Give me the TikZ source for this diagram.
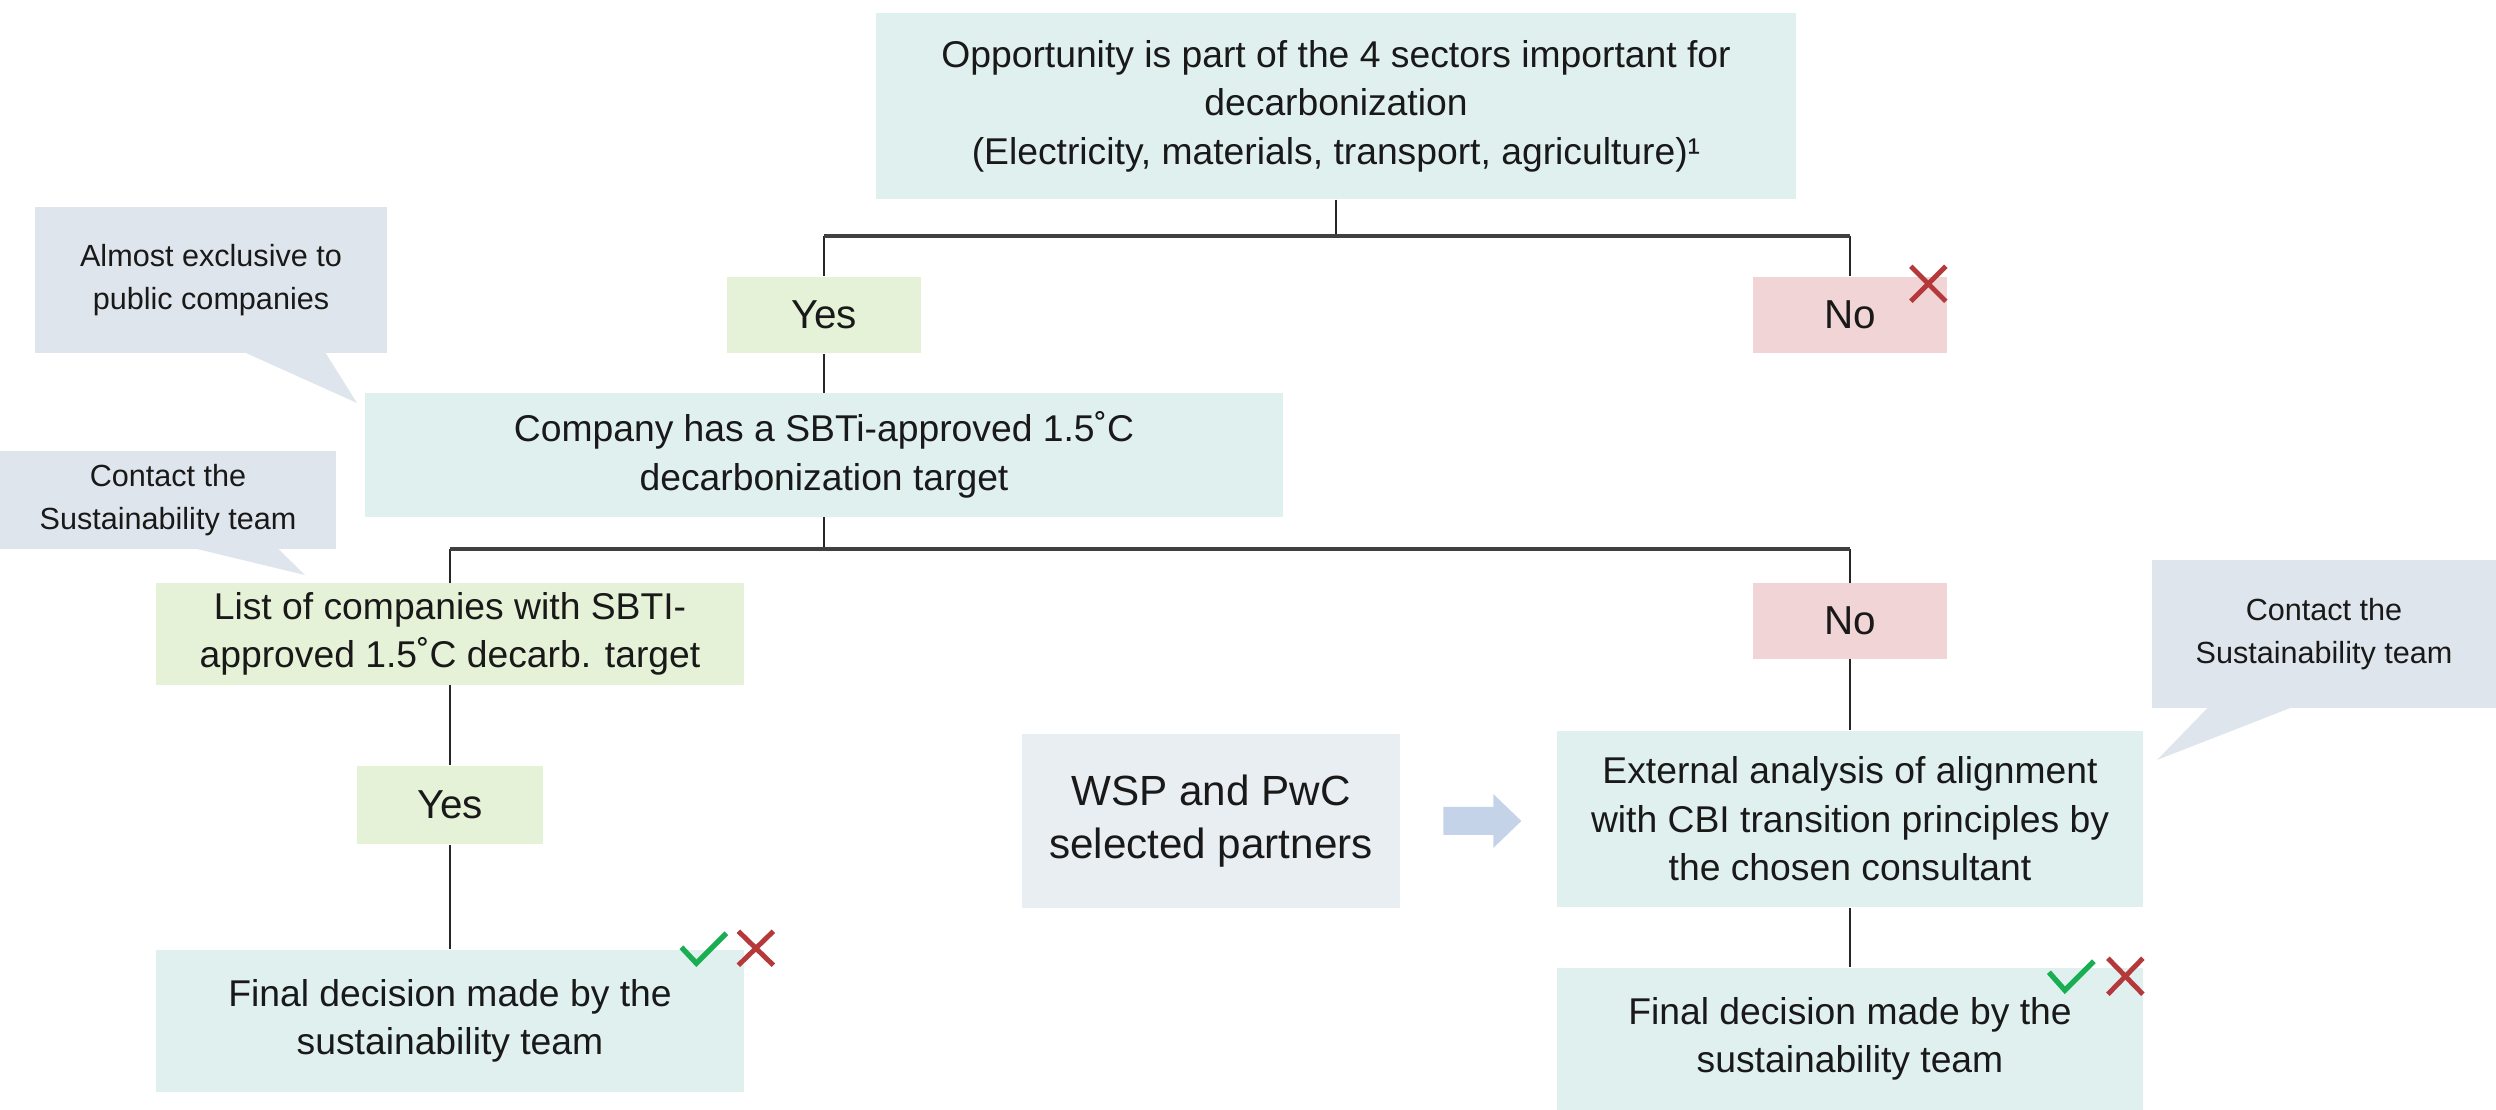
\documentclass[tikz,border=0pt]{standalone}
\usepackage{fontspec}
\setmainfont{Liberation Sans}
\usetikzlibrary{calc}
\definecolor{tealbox}{RGB}{224,240,238}
\definecolor{greenbox}{RGB}{229,242,215}
\definecolor{pinkbox}{RGB}{241,213,214}
\definecolor{callcol}{RGB}{223,229,236}
\definecolor{wspcol}{RGB}{233,238,242}
\definecolor{arrowcol}{RGB}{197,211,233}
\definecolor{okgreen}{RGB}{26,174,82}
\definecolor{nored}{RGB}{181,56,58}
\tikzset{
  base/.style={inner sep=0pt, align=center, text=black!90},
  tealnode/.style={base, fill=tealbox, font=\fontsize{10.6}{13.8}\selectfont},
  greennode/.style={base, fill=greenbox, font=\fontsize{10.6}{13.8}\selectfont},
  yesnode/.style={base, fill=greenbox, font=\fontsize{11.5}{14}\selectfont},
  nonode/.style={base, fill=pinkbox, font=\fontsize{11.5}{14}\selectfont},
  callnode/.style={base, fill=callcol, font=\fontsize{8.7}{12.2}\selectfont},
  wspnode/.style={base, fill=wspcol, font=\fontsize{12}{15}\selectfont},
  vline/.style={draw=black!85, line width=0.65pt},
  hline/.style={draw=black!75, line width=1.2pt},
  checkmark/.style={draw=okgreen, line width=1.5pt},
  crossmark/.style={draw=nored, line width=1.4pt},
}
\begin{document}
\begin{tikzpicture}[x=0.01cm,y=-0.01cm]
\useasboundingbox (0,0) rectangle (2496,1110);

% boxes
\node[tealnode, minimum width=9.19cm, minimum height=1.86cm] (top) at (1336,106)
  {Opportunity is part of the 4 sectors important for\\decarbonization\\(Electricity, materials, transport, agriculture)¹};
\node[yesnode, minimum width=1.93cm, minimum height=0.76cm] (yes1) at (824,315) {Yes};
\node[nonode, minimum width=1.94cm, minimum height=0.76cm] (no1) at (1850,315) {No};
\node[tealnode, minimum width=9.18cm, minimum height=1.23cm] (comp) at (824,455)
  {Company has a SBTi-approved 1.5˚C\\decarbonization target};
\node[callnode, minimum width=3.52cm, minimum height=1.45cm] (call1) at (211,280)
  {Almost exclusive to\\public companies};
\node[callnode, minimum width=3.35cm, minimum height=0.97cm] (call2) at (168,500)
  {Contact the\\Sustainability team};
\node[greennode, minimum width=5.87cm, minimum height=1.01cm] (list) at (450,634)
  {List of companies with SBTI-\\approved 1.5˚C decarb. target};
\node[yesnode, minimum width=1.86cm, minimum height=0.78cm] (yes2) at (450,805) {Yes};
\node[tealnode, minimum width=5.87cm, minimum height=1.42cm] (finL) at (450,1021)
  {Final decision made by the\\sustainability team};
\node[nonode, minimum width=1.94cm, minimum height=0.75cm] (no2) at (1850,621) {No};
\node[tealnode, minimum width=5.86cm, minimum height=1.76cm] (ext) at (1850,819)
  {External analysis of alignment\\with CBI transition principles by\\the chosen consultant};
\node[wspnode, minimum width=3.77cm, minimum height=1.74cm] (wsp) at (1211,821)
  {WSP and PwC\\selected partners};
\node[callnode, minimum width=3.44cm, minimum height=1.47cm] (call3) at (2324,634)
  {Contact the\\Sustainability team};
\node[tealnode, minimum width=5.86cm, minimum height=1.42cm] (finR) at (1850,1039)
  {Final decision made by the\\sustainability team};

% callout tails
\fill[callcol] ($(call1.south west)+(210,-1)$) -- (357,403) -- ($(call1.south west)+(291,-1)$) -- cycle;
\fill[callcol] ($(call2.south west)+(194,-1)$) -- (305,575) -- ($(call2.south west)+(278,-1)$) -- cycle;
\fill[callcol] ($(call3.south west)+(57,-1)$) -- (2157,760) -- ($(call3.south west)+(141,-1)$) -- cycle;

% connectors
\coordinate (j1) at (1336,236);
\coordinate (j2) at (824,549);
\draw[vline] (top.south) -- (j1);
\draw[vline] (j1 -| yes1.north) -- (yes1.north);
\draw[vline] (j1 -| no1.north) -- (no1.north);
\draw[hline] (j1 -| yes1.north) -- (j1 -| no1.north);
\draw[vline] (yes1.south) -- (comp.north);
\draw[vline] (comp.south) -- (j2);
\draw[vline] (j2 -| list.north) -- (list.north);
\draw[vline] (j2 -| no2.north) -- (no2.north);
\draw[hline] (j2 -| list.north) -- (j2 -| no2.north);
\draw[vline] (list.south) -- (yes2.north);
\draw[vline] (yes2.south) -- (finL.north);
\draw[vline] (no2.south) -- (ext.north);
\draw[vline] (ext.south) -- (finR.north);

% block arrow WSP -> external
\fill[arrowcol] ($(wsp.east)+(43,-14)$) -- ($(wsp.east)+(93,-14)$) -- ($(wsp.east)+(93,-27)$)
  -- ($(wsp.east)+(121,0)$) -- ($(wsp.east)+(93,27)$) -- ($(wsp.east)+(93,14)$)
  -- ($(wsp.east)+(43,14)$) -- cycle;

% marks
\draw[crossmark] ($(no1.north east)+(-37,-10)$) -- ($(no1.north east)+(-2,25)$);
\draw[crossmark] ($(no1.north east)+(-37,25)$) -- ($(no1.north east)+(-2,-10)$);

\draw[checkmark] ($(finL.north east)+(-63,-2)$) -- ($(finL.north east)+(-48,14)$) -- ($(finL.north east)+(-18,-16)$);
\draw[crossmark] ($(finL.north east)+(-6,-18)$) -- ($(finL.north east)+(29,16)$);
\draw[crossmark] ($(finL.north east)+(-6,16)$) -- ($(finL.north east)+(29,-18)$);

\draw[checkmark] ($(finR.north east)+(-95,5)$) -- ($(finR.north east)+(-79,23)$) -- ($(finR.north east)+(-50,-6)$);
\draw[crossmark] ($(finR.north east)+(-36,-9)$) -- ($(finR.north east)+(-1,27)$);
\draw[crossmark] ($(finR.north east)+(-36,27)$) -- ($(finR.north east)+(-1,-9)$);
\end{tikzpicture}
\end{document}
